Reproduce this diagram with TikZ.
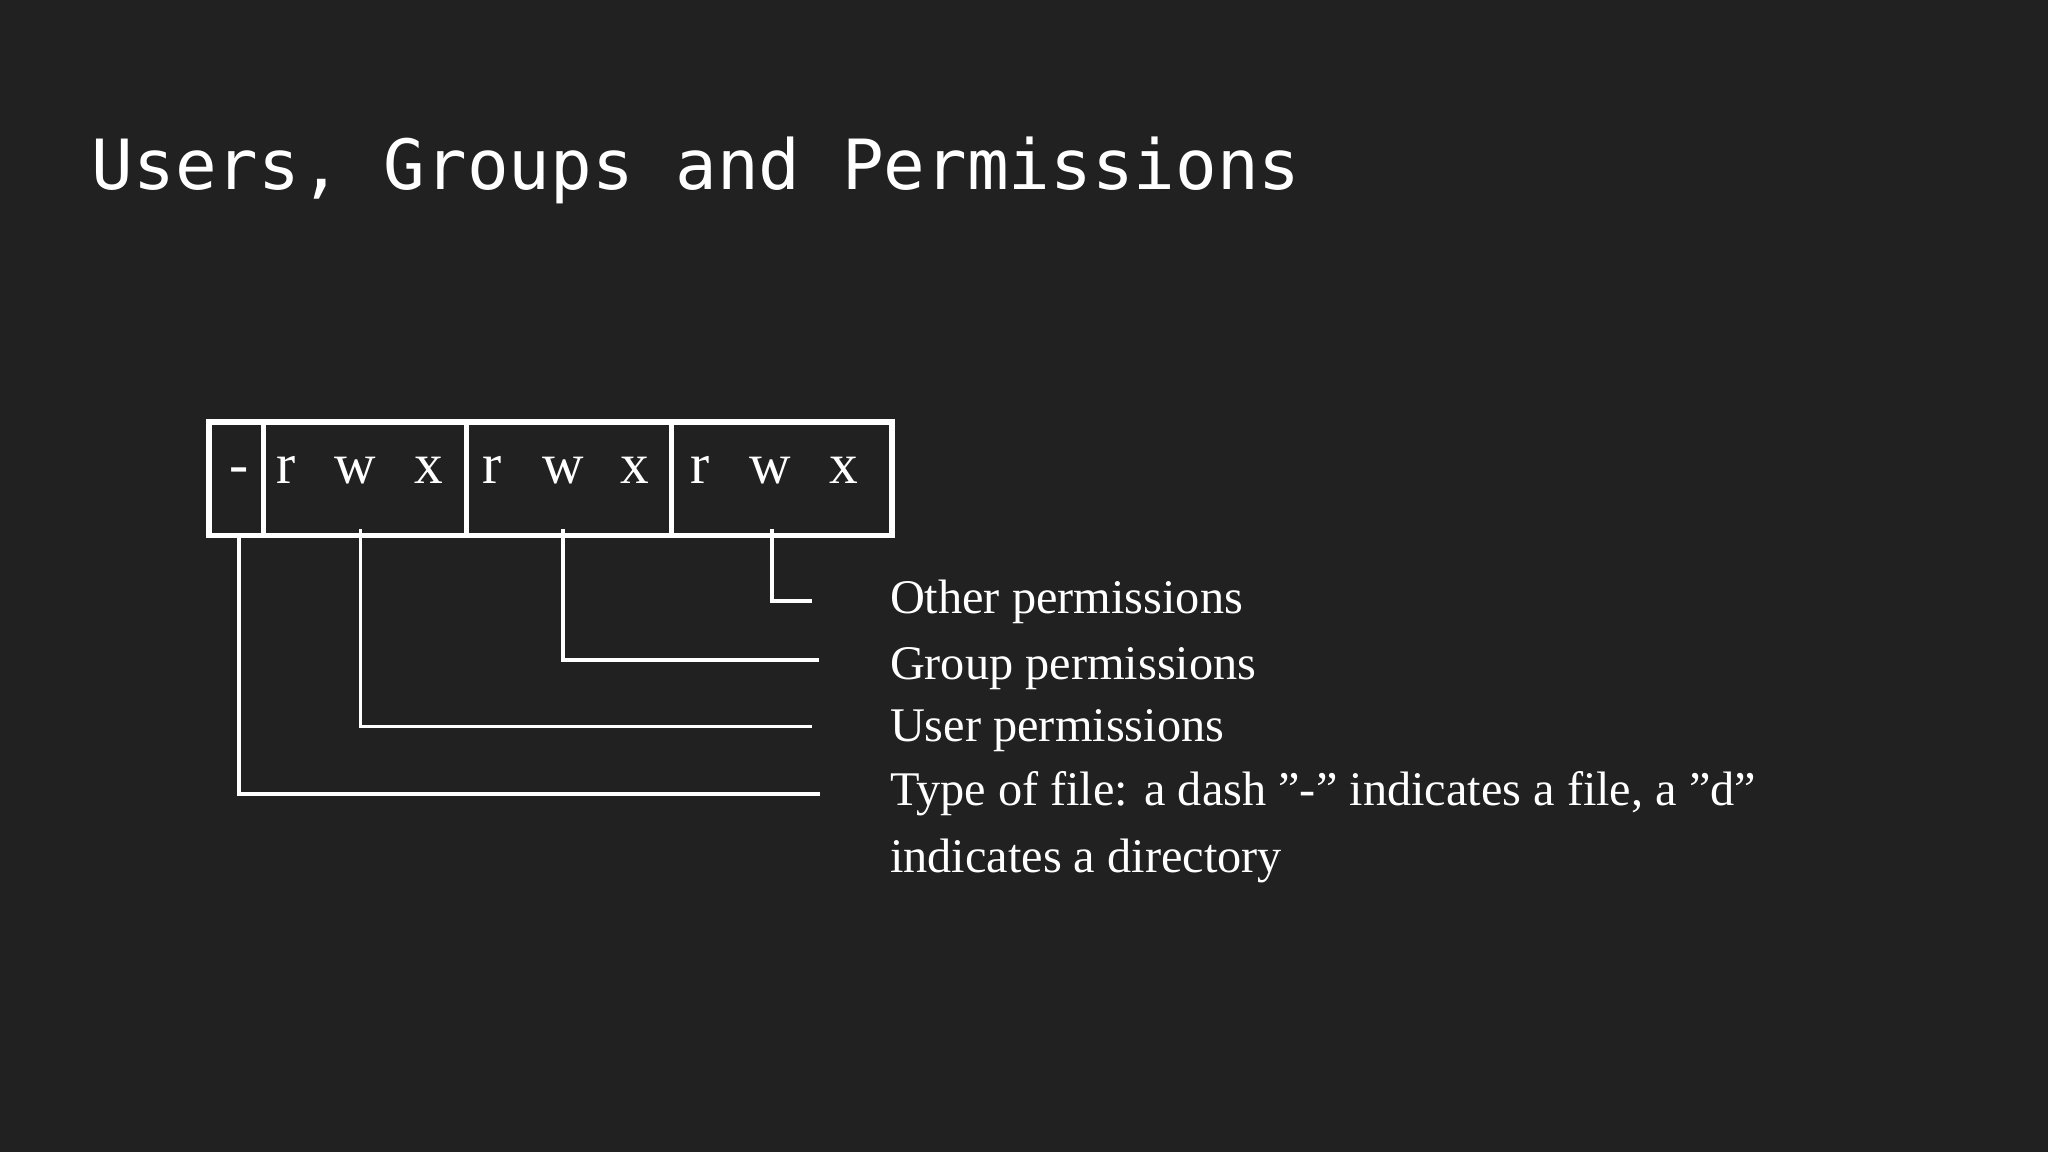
\documentclass[tikz,border=0pt]{standalone}
\usepackage{fontspec}
\setmainfont{Liberation Serif}
\newfontfamily\titlefont{DejaVu Sans Mono}
\definecolor{bg}{HTML}{212121}
\begin{document}
\begin{tikzpicture}[x=0.5pt,y=-0.5pt,
  lett/.style={text=white,font=\fontsize{22}{22}\selectfont,anchor=base},
  lbl/.style={text=white,font=\fontsize{18.5}{22}\selectfont,anchor=base west,inner sep=0},
  ln/.style={draw=white,line width=1.6pt}]
\fill[bg] (0,0) rectangle (1568,882);
\useasboundingbox (0,0) rectangle (1568,882);
\node[text=white,font=\titlefont\fontsize{26.5}{30}\selectfont,anchor=base west,inner sep=0] (title) at (70,145) {Users, Groups and Permissions};
\draw[white,line width=2.2pt] (160,323) rectangle (683,410);
\draw[white,line width=1.8pt] (202,323)--(202,410) (357,323)--(357,410) (514,323)--(514,410);
\foreach \x/\c/\n in {183/-/t,219/r/r1,272/w/w1,328/x/x1,377/r/r2,431/w/w2,486/x/x2,536/r/r3,590/w/w3,646/x/x3}
  \node[lett] (\n) at (\x,370) {\c};
\node[lbl] (o) at (681,470) {Other permissions};
\node[lbl] (g) at (681,520) {Group permissions};
\node[lbl] (u) at (681,568) {User permissions};
\node[lbl] (ty) at (681,617) {Type of file: a dash "-" indicates a file, a "d"};
\node[lbl] (ty2) at (681,668) {indicates a directory};
\coordinate (a1) at (183,410); \coordinate (a2) at (628,608);
\coordinate (b1) at (276,405); \coordinate (b2) at (622,556);
\coordinate (c1) at (431,405); \coordinate (c2) at (627,505);
\coordinate (d1) at (591,405); \coordinate (d2) at (622,460);
\draw[ln] (a1) |- (a2);
\draw[ln,line width=1pt] (b1) |- (b2);
\draw[ln] (c1) |- (c2);
\draw[ln] (d1) |- (d2);
\end{tikzpicture}
\end{document}
